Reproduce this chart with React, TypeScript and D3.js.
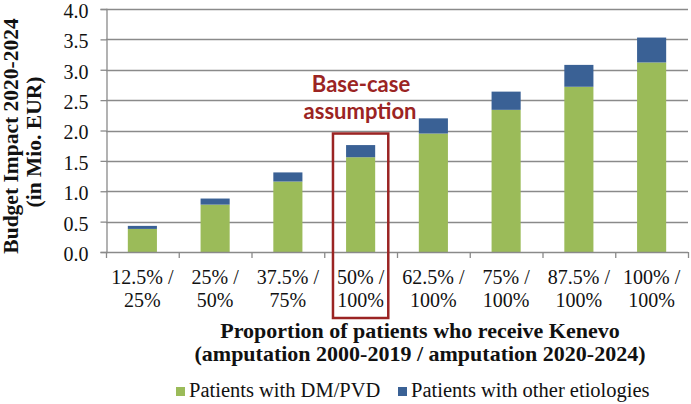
import * as React from 'react';
import * as d3 from 'd3';

const categories: string[][] = [
  ['12.5% /', '25%'],
  ['25% /', '50%'],
  ['37.5% /', '75%'],
  ['50% /', '100%'],
  ['62.5% /', '100%'],
  ['75% /', '100%'],
  ['87.5% /', '100%'],
  ['100% /', '100%'],
];
const dmPvd = [0.38, 0.78, 1.16, 1.56, 1.95, 2.34, 2.72, 3.12];
const otherEtiologies = [0.05, 0.1, 0.15, 0.2, 0.25, 0.3, 0.36, 0.41];
const yTicks = [0, 0.5, 1, 1.5, 2, 2.5, 3, 3.5, 4];
const seriesNames = ['Patients with DM/PVD', 'Patients with other etiologies'];
const baseCaseIndex = 3;

const W = 691, H = 404;
const GREEN = '#9bbb59', BLUE = '#3a6195', RED = '#9b2423', GRID = '#8a8a8a';
const SERIF = '"Liberation Serif", "Times New Roman", serif';

export default function App() {
  const svgRef = React.useRef<SVGSVGElement>(null);

  React.useEffect(() => {
    const svg = d3.select(svgRef.current);
    svg.selectAll('*').remove();

    const left = 106, right = 688, top = 9, bottom = 252;

    const x = d3.scaleBand<number>()
      .domain(categories.map((_, i) => i))
      .range([left, right])
      .paddingInner(0.6)
      .paddingOuter(0.3);
    const y = d3.scaleLinear().domain([0, 4]).range([bottom, top]);

    // gridlines
    svg.append('g')
      .selectAll('line')
      .data(yTicks.filter(d => d > 0))
      .enter()
      .append('line')
      .attr('x1', left)
      .attr('x2', right)
      .attr('y1', d => Math.round(y(d)) + 0.5)
      .attr('y2', d => Math.round(y(d)) + 0.5)
      .attr('stroke', GRID)
      .attr('stroke-width', 1.3);

    // y axis
    const yAxis = svg.append('g')
      .attr('transform', `translate(${left + 0.5},0)`)
      .call(d3.axisLeft(y).tickValues(yTicks).tickFormat(d3.format('.1f')).tickSize(6).tickPadding(12));
    yAxis.select('.domain').attr('stroke', GRID).attr('stroke-width', 1.3);
    yAxis.selectAll('.tick line').attr('stroke', GRID).attr('stroke-width', 1.3);
    yAxis.selectAll('.tick text')
      .attr('font-family', SERIF)
      .attr('font-size', 20)
      .attr('dy', '0.42em')
      .attr('fill', '#111');

    // bars
    const stack = categories.map((_, i) => ({ i, a: dmPvd[i], b: otherEtiologies[i] }));
    const bars = svg.append('g');
    bars.selectAll('rect.g')
      .data(stack)
      .enter()
      .append('rect')
      .attr('x', d => x(d.i)!)
      .attr('width', x.bandwidth())
      .attr('y', d => y(d.a))
      .attr('height', d => y(0) - y(d.a))
      .attr('fill', GREEN);
    bars.selectAll('rect.b')
      .data(stack)
      .enter()
      .append('rect')
      .attr('x', d => x(d.i)!)
      .attr('width', x.bandwidth())
      .attr('y', d => y(d.a + d.b))
      .attr('height', d => y(d.a) - y(d.a + d.b))
      .attr('fill', BLUE);

    // x axis
    const step = (right - left) / categories.length;
    svg.append('line')
      .attr('x1', left).attr('x2', right)
      .attr('y1', bottom + 0.5).attr('y2', bottom + 0.5)
      .attr('stroke', GRID).attr('stroke-width', 1.3);
    svg.append('g')
      .selectAll('line')
      .data(d3.range(categories.length + 1))
      .enter()
      .append('line')
      .attr('x1', i => left + i * step + 0.5)
      .attr('x2', i => left + i * step + 0.5)
      .attr('y1', bottom)
      .attr('y2', bottom + 6)
      .attr('stroke', GRID)
      .attr('stroke-width', 1.3);

    const labels = svg.append('g')
      .attr('font-family', SERIF)
      .attr('font-size', 20)
      .attr('fill', '#111')
      .attr('text-anchor', 'middle');
    categories.forEach((lines, i) => {
      const cx = x(i)! + x.bandwidth() / 2;
      lines.forEach((t, j) => {
        labels.append('text')
          .attr('x', cx)
          .attr('y', 284 + j * 23)
          .text(t);
      });
    });

    // axis titles
    const xt = svg.append('g')
      .attr('font-family', SERIF)
      .attr('font-size', 22)
      .attr('font-weight', 'bold')
      .attr('text-anchor', 'middle')
      .attr('fill', '#111');
    xt.append('text').attr('x', 420).attr('y', 338).text('Proportion of patients who receive Kenevo');
    xt.append('text').attr('x', 420).attr('y', 361).text('(amputation 2000-2019 / amputation 2020-2024)');

    const yt = svg.append('g')
      .attr('font-family', SERIF)
      .attr('font-size', 21.5)
      .attr('font-weight', 'bold')
      .attr('text-anchor', 'middle')
      .attr('fill', '#111');
    yt.append('text')
      .attr('transform', 'translate(18,136) rotate(-90)')
      .text('Budget Impact 2020-2024');
    yt.append('text')
      .attr('transform', 'translate(41,142) rotate(-90)')
      .text('(in Mio. EUR)');

    // base-case annotation
    const bx = x(baseCaseIndex)!;
    svg.append('rect')
      .attr('x', bx - x.bandwidth() * 0.45)
      .attr('y', y(1.95))
      .attr('width', x.bandwidth() * 1.9)
      .attr('height', 318 - y(1.95))
      .attr('fill', 'none')
      .attr('stroke', RED)
      .attr('stroke-width', 2.5);
    const ann = svg.append('g')
      .attr('font-family', 'Lato, "Open Sans", sans-serif')
      .attr('font-size', 22)
      .attr('font-weight', 'bold')
      .attr('text-anchor', 'middle')
      .attr('fill', RED);
    ann.append('text').attr('x', 361).attr('y', 92).text('Base-case');
    ann.append('text').attr('x', 360).attr('y', 119).text('assumption');

    // legend
    const legend = svg.append('g')
      .attr('font-family', SERIF)
      .attr('font-size', 20.5)
      .attr('fill', '#111');
    const legendX = [176, 398];
    seriesNames.forEach((name, i) => {
      legend.append('rect')
        .attr('x', legendX[i])
        .attr('y', 387)
        .attr('width', 9)
        .attr('height', 9)
        .attr('fill', i === 0 ? GREEN : BLUE);
      legend.append('text')
        .attr('x', legendX[i] + 13)
        .attr('y', 397)
        .text(name);
    });
  }, []);

  return (
    <svg
      ref={svgRef}
      width={W}
      height={H}
      style={{ position: 'absolute', left: 0, top: 0, background: '#fff' }}
    />
  );
}
